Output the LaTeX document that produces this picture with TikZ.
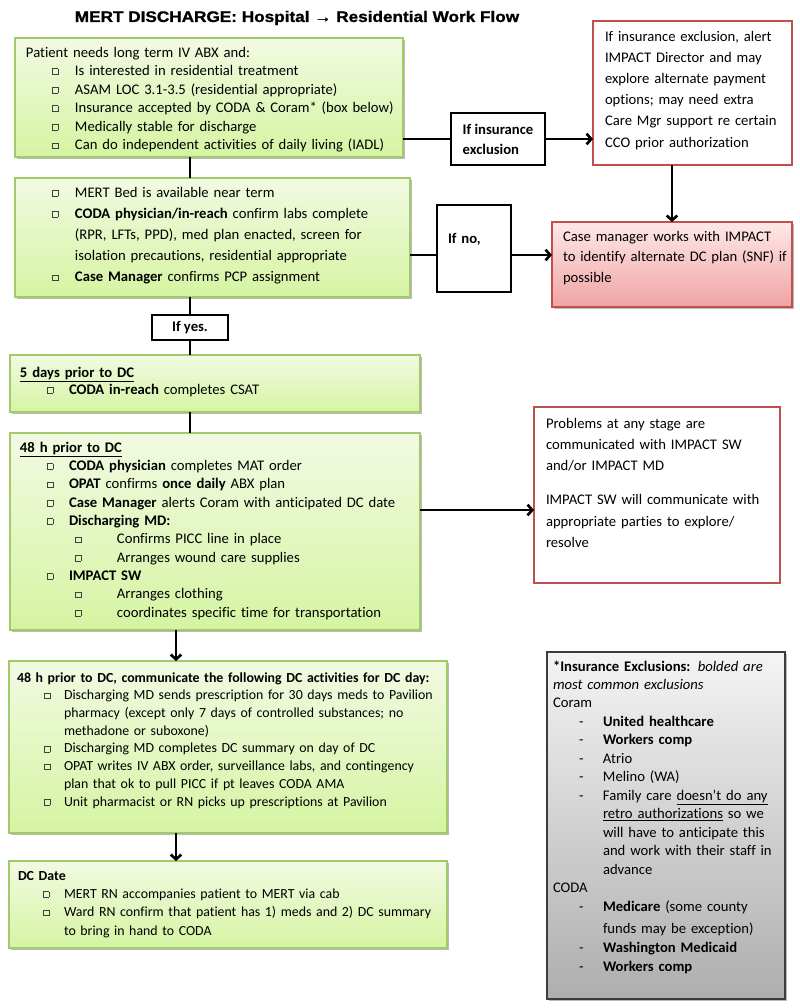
\documentclass[tikz,border=0pt]{standalone}
\usepackage{fontspec}
\setmainfont{Carlito}[Ligatures=NoCommon]
\newfontfamily\titlefont[FakeStretch=1.12,FakeBold=1.2]{Liberation Sans}
\usepackage{xcolor}
\usepackage{tikz}
\usetikzlibrary{arrows.meta,positioning,shadows}

\definecolor{greentop}{HTML}{F2FAE2}
\definecolor{greenbot}{HTML}{D5F4A2}
\definecolor{greenline}{HTML}{A2C96A}
\definecolor{redline}{HTML}{C0504D}
\definecolor{pinktop}{HTML}{FFE8E8}
\definecolor{pinkbot}{HTML}{F0A3A3}
\definecolor{greytop}{HTML}{F4F4F4}
\definecolor{greybot}{HTML}{AEAEAE}
\definecolor{greyline}{HTML}{3C3C3C}

\newlength{\px}
\setlength{\px}{0.75pt}
\newcommand{\sqbox}{\raisebox{1pt}{\color{black!75}\setlength{\fboxsep}{0pt}\setlength{\fboxrule}{0.45pt}\fbox{\rule{0pt}{3.9pt}\hspace{3.9pt}}}}
\newcommand{\itm}[2]{\hspace*{#1\px}\makebox[#2\px][l]{\sqbox}}
\newcommand{\dsh}[2]{\hspace*{#1\px}\makebox[#2\px][l]{-}}
\newcommand{\cont}[1]{\hspace*{#1\px}}

\begin{document}
\begin{tikzpicture}[
    x=0.75pt, y=-0.75pt,
    greenbox/.style={
      rectangle, anchor=north west, inner sep=0pt, outer sep=0pt,
      draw=greenline, line width=1.1pt,
      top color=greentop, bottom color=greenbot,
      drop shadow={shadow xshift=1.2pt, shadow yshift=-1.6pt, opacity=0.45, fill=black!60},
    },
    redbox/.style={
      rectangle, anchor=north west, inner sep=0pt, outer sep=0pt,
      draw=redline, line width=1.8pt, fill=white,
    },
    pinkbox/.style={
      redbox, top color=pinktop, bottom color=pinkbot,
      drop shadow={shadow xshift=1.2pt, shadow yshift=-1.6pt, opacity=0.45, fill=black!60},
    },
    greybox/.style={
      rectangle, anchor=north west, inner sep=0pt, outer sep=0pt,
      draw=greyline, line width=1.1pt,
      top color=greytop, bottom color=greybot,
      drop shadow={shadow xshift=1.2pt, shadow yshift=-1.6pt, opacity=0.45, fill=black!60},
    },
    labelbox/.style={
      rectangle, draw=black, line width=0.8pt, fill=white,
      inner sep=0pt, outer sep=0pt, font=\bfseries\fontsize{11}{15}\selectfont,
    },
    txt/.style={
      anchor=base west, inner sep=0pt, outer sep=0pt,
      align=left, text width=#1\px,
    },
    conn/.style={line width=2pt, black},
    arr/.style={conn, -{Straight Barb[length=3.5pt,width=8pt]}},
  ]
  \useasboundingbox (0,0) rectangle (800,1008);

  % Title
  \node[inner sep=0pt] (title) at (297,18)
    {\titlefont\bfseries\fontsize{11.5}{14}\selectfont MERT DISCHARGE: Hospital → Residential Work Flow};

  % Left column: green steps
  \node[greenbox, minimum width=388\px, minimum height=119\px] (b1) at (15,38) {};
  \node[greenbox, minimum width=395\px, minimum height=119\px] (b2) at (15,178) {};
  \node[greenbox, minimum width=410\px, minimum height=57\px] (b3) at (10,355) {};
  \node[greenbox, minimum width=410\px, minimum height=197\px] (b4) at (10,433) {};
  \node[greenbox, minimum width=438\px, minimum height=172\px] (b5) at (9,661) {};
  \node[greenbox, minimum width=438\px, minimum height=87\px] (b6) at (9,861) {};

  % Right column: alerts and notes
  \node[redbox, minimum width=199\px, minimum height=144\px] (r1) at (593,21) {};
  \node[pinkbox, minimum width=240\px, minimum height=85\px] (r2) at (552,222) {};
  \node[redbox, minimum width=246\px, minimum height=176\px] (r3) at (534,407) {};
  \node[greybox, minimum width=238\px, minimum height=347\px] (ins) at (547,652) {};

  % Decision labels
  \node[labelbox, minimum width=94\px, minimum height=52\px, align=left] (excl) at (498,139) {If insurance\\exclusion};
  \node[labelbox, anchor=north west, minimum width=74\px, minimum height=87\px] (no) at (437,205) {};
  \node[labelbox, minimum width=76\px, minimum height=25\px] (yes) at (190,327.5) {If yes.};
  \node[txt=60, font=\bfseries\fontsize{11}{15}\selectfont] (notxt) at (448,243) {If no,};

  % Texts of the steps
  \node[txt=600, font=\fontsize{11}{13.9}\selectfont] (t1) at (26,57) {%
    Patient needs long term IV ABX and:\\
    \itm{26}{23}Is interested in residential treatment\\
    \itm{26}{23}ASAM LOC 3.1-3.5 (residential appropriate)\\
    \itm{26}{23}Insurance accepted by CODA \& Coram* (box below)\\
    \itm{26}{23}Medically stable for discharge\\
    \itm{26}{23}Can do independent activities of daily living (IADL)};
  \node[txt=600, font=\fontsize{11}{15.9}\selectfont] (t2) at (26,197) {%
    \itm{26}{23}MERT Bed is available near term\\
    \itm{26}{23}\textbf{CODA physician/in-reach} confirm labs complete\\
    \cont{49}(RPR, LFTs, PPD), med plan enacted, screen for\\
    \cont{49}isolation precautions, residential appropriate\\
    \itm{26}{23}\textbf{Case Manager} confirms PCP assignment};
  \node[txt=600, font=\fontsize{11}{12.8}\selectfont] (t3) at (20,377) {%
    \underline{\textbf{5 days prior to DC}}\\
    \itm{27}{22}\textbf{CODA in-reach} completes CSAT};
  \node[txt=600, font=\fontsize{11}{13.75}\selectfont] (t4) at (20,452) {%
    \underline{\textbf{48 h prior to DC}}\\
    \itm{27}{22}\textbf{CODA physician} completes MAT order\\
    \itm{27}{22}\textbf{OPAT} confirms \textbf{once daily} ABX plan\\
    \itm{27}{22}\textbf{Case Manager} alerts Coram with anticipated DC date\\
    \itm{27}{22}\textbf{Discharging MD:}\\
    \itm{55}{42}Confirms PICC line in place\\
    \itm{55}{42}Arranges wound care supplies\\
    \itm{27}{22}\textbf{IMPACT SW}\\
    \itm{55}{42}Arranges clothing\\
    \itm{55}{42}coordinates specific time for transportation};
  \node[txt=600, font=\fontsize{10.4}{13.3}\selectfont] (t5) at (17,682) {%
    \textbf{48 h prior to DC, communicate the following DC activities for DC day:}\\
    \itm{27}{20}Discharging MD sends prescription for 30 days meds to Pavilion\\
    \cont{47}pharmacy (except only 7 days of controlled substances; no\\
    \cont{47}methadone or suboxone)\\
    \itm{27}{20}Discharging MD completes DC summary on day of DC\\
    \itm{27}{20}OPAT writes IV ABX order, surveillance labs, and contingency\\
    \cont{47}plan that ok to pull PICC if pt leaves CODA AMA\\
    \itm{27}{20}Unit pharmacist or RN picks up prescriptions at Pavilion};
  \node[txt=600, font=\fontsize{10.4}{13.75}\selectfont] (t6) at (18,880) {%
    \textbf{DC Date}\\
    \itm{25}{21}MERT RN accompanies patient to MERT via cab\\
    \itm{25}{21}Ward RN confirm that patient has 1) meds\ and 2) DC summary\\
    \cont{46}to bring in hand to CODA};

  % Texts of the right column
  \node[txt=300, font=\fontsize{11}{15.9}\selectfont] (rt1) at (605,41) {%
    If insurance exclusion, alert\\
    IMPACT Director and may\\
    explore alternate payment\\
    options; may need extra\\
    Care Mgr support re certain\\
    CCO prior authorization};
  \node[txt=300, font=\fontsize{11}{15.5}\selectfont] (rt2) at (563,241) {%
    Case manager works with IMPACT\\
    to identify alternate DC plan (SNF) if\\
    possible};
  \node[txt=300, font=\fontsize{11}{16}\selectfont] (rt3) at (546,428) {%
    Problems at any stage are\\
    communicated with IMPACT SW\\
    and/or IMPACT MD\\[9.5pt]
    IMPACT SW will communicate with\\
    appropriate parties to explore/\\
    resolve};
  \node[txt=300, font=\fontsize{11}{13.85}\selectfont] (inst) at (553,671) {%
    \textbf{*Insurance Exclusions:} \textit{bolded are}\\
    \textit{most common exclusions}\\
    Coram\\
    \dsh{26}{24}\textbf{United healthcare}\\
    \dsh{26}{24}\textbf{Workers comp}\\
    \dsh{26}{24}Atrio\\
    \dsh{26}{24}Melino (WA)\\
    \dsh{26}{24}Family care \underline{doesn’t do any}\\
    \cont{50}\underline{retro authorizations} so we\\
    \cont{50}will have to anticipate this\\
    \cont{50}and work with their staff in\\
    \cont{50}advance\\
    CODA\\
    \dsh{26}{24}\textbf{Medicare} (some county\\[2.6pt]
    \cont{50}funds may be exception)\\[0.5pt]
    \dsh{26}{24}\textbf{Washington Medicaid}\\[1pt]
    \dsh{26}{24}\textbf{Workers comp}};

  % Main flow down the left
  \draw[conn] (yes |- b1.south) -- (yes |- b2.north);
  \draw[conn] (yes |- b2.south) -- (yes.north);
  \draw[conn] (yes.south) -- (yes |- b3.north);
  \draw[conn] (yes |- b3.south) -- (yes |- b4.north);
  \coordinate (ax) at (176,0);
  \draw[arr] (ax |- b4.south) -- (ax |- b5.north);
  \draw[arr] (ax |- b5.south) -- (ax |- b6.north);

  % Branches to the right
  \draw[conn] (excl -| b1.east) -- (excl.west);
  \draw[arr] (excl.east) -- (excl -| r1.west);
  \draw[arr] (r2 |- r1.south) -- (r2.north);
  \coordinate (ny) at (0,255);
  \draw[conn] (ny -| b2.east) -- (ny -| no.west);
  \draw[arr] (ny -| no.east) -- (ny -| r2.west);
  \coordinate (py) at (0,510);
  \draw[arr] (py -| b4.east) -- (py -| r3.west);

\end{tikzpicture}
\end{document}
